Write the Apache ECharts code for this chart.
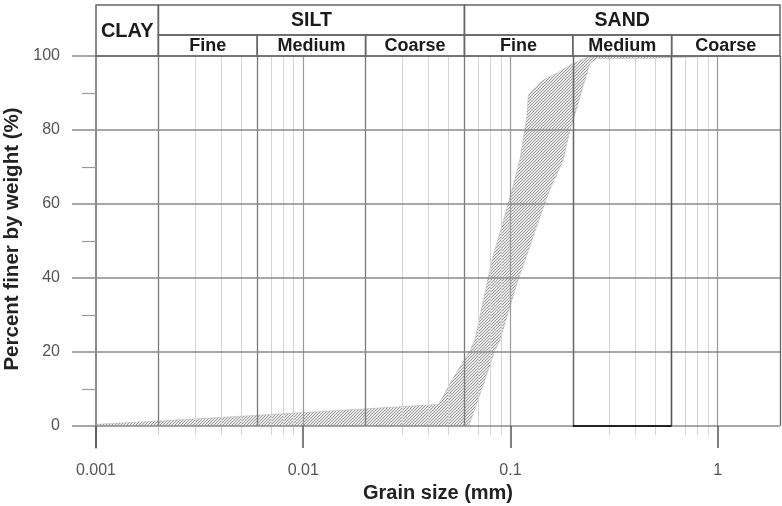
<!DOCTYPE html>
<html>
<head>
<meta charset="utf-8">
<script src="https://cdn.jsdelivr.net/npm/echarts@6/dist/echarts.min.js"></script>
<style>
  html, body { margin: 0; padding: 0; background: #fff; }
  #chart { width: 782px; height: 506px; }
</style>
</head>
<body>
<div id="chart"></div>
<script>
// Grain size classes (mm)
const majorClassNames = ['CLAY', 'SILT', 'SAND'];
const majorClassEdges = [0.001, 0.002, 0.06, 2];
const subClassNames = ['Fine', 'Medium', 'Coarse', 'Fine', 'Medium', 'Coarse'];
const subClassEdges = [0.002, 0.006, 0.02, 0.06, 0.2, 0.6, 2];

// Axis ticks
const sizeTicks = [0.001, 0.01, 0.1, 1];
const pctTicks = [0, 20, 40, 60, 80, 100];
const pctMinorTicks = [10, 30, 50, 70, 90];

// Grading envelope: finest boundary (upper) and coarsest boundary (lower)
const upperSize = [0.001, 0.002, 0.005, 0.01, 0.02, 0.045, 0.053, 0.064, 0.0675, 0.082, 0.092, 0.102, 0.111, 0.12, 0.122, 0.144, 0.168, 0.194, 0.242, 1.1];
const upperPct  = [0.4, 1.3, 2.6, 3.6, 4.6, 5.8, 13, 20.5, 23.5, 45.5, 55, 64, 72, 83.5, 89.5, 93.5, 95.4, 97.6, 100, 100];
const lowerSize = [0.001, 0.063, 0.0754, 0.0843, 0.0891, 0.109, 0.124, 0.139, 0.155, 0.18, 0.194, 0.21, 0.224, 0.242, 0.262, 0.5, 1.1];
const lowerPct  = [0, 0, 12.4, 20.5, 23.2, 39.5, 48.4, 56.5, 63.8, 71.9, 80, 86.2, 91.6, 98, 99.3, 99.4, 100];

const FONT = '"Liberation Sans", Arial, sans-serif';
const X_MIN = 0.001, X_MAX = 2;
const Y_MIN = -6, Y_MAX = 100;

// Hatch pattern for the envelope
function makeHatch() {
  const c = document.createElement('canvas');
  c.width = 3; c.height = 3;
  const g = c.getContext('2d');
  g.fillStyle = 'rgba(215,215,215,0.55)';
  g.fillRect(0, 0, 3, 3);
  g.strokeStyle = '#9c9c9c';
  g.lineWidth = 1;
  g.beginPath();
  g.moveTo(-1, 4); g.lineTo(4, -1);
  g.moveTo(-2, 2); g.lineTo(2, -2);
  g.moveTo(1, 5); g.lineTo(5, 1);
  g.stroke();
  return c;
}
const hatch = makeHatch();

// Intermediate log lines (2..9 per decade) that are not class boundaries
const classBounds = subClassEdges.slice(0, -1);
const minorSizes = [];
sizeTicks.forEach(d => {
  for (let k = 2; k <= 9; k++) {
    const v = +(k * d).toPrecision(3);
    if (v < X_MAX && !classBounds.includes(v)) minorSizes.push(v);
  }
});

const vLine = (x, y0, y1, color, width) => [
  { coord: [x, y0], lineStyle: { color, width, type: 'solid' } },
  { coord: [x, y1] }
];

const gridLines = [];
minorSizes.forEach(v => gridLines.push(vLine(v, Y_MAX, -2.5, '#d4d4d4', 1)));
sizeTicks.slice(1).forEach(v => gridLines.push(vLine(v, Y_MAX, 0, '#9a9a9a', 1.2)));
classBounds.forEach(v => gridLines.push(vLine(v, Y_MAX, 0, '#7a7a7a', 1.3)));
gridLines.push(vLine(classBounds[0], 0, -2.5, '#c8c8c8', 1));
gridLines.push(vLine(X_MAX, Y_MAX, 0, '#666', 1.3));
pctTicks.forEach(v => gridLines.push({ yAxis: v, lineStyle: { color: '#8a8a8a', width: 1.5, type: 'solid' } }));

const tickLines = sizeTicks.map(v => vLine(v, 0, Y_MIN, '#555', 1.5));
tickLines.push(vLine(subClassEdges[4], Y_MAX, 0, '#666', 1.3));
tickLines.push(vLine(subClassEdges[5], Y_MAX, 0, '#555', 1.4));
tickLines.push([{ coord: [subClassEdges[4], 0], lineStyle: { color: '#222', width: 2, type: 'solid' } }, { coord: [subClassEdges[5], 0] }]);

// Header cells: [from, to, yBottom, yTop] in header-row units
const ROW_SPLIT = 21 / 51;
const headerCells = [];
majorClassNames.forEach((n, i) => {
  const spanAll = i === 0;
  headerCells.push({ name: n, from: majorClassEdges[i], to: majorClassEdges[i + 1], y0: spanAll ? 0 : ROW_SPLIT, y1: 1, size: spanAll ? 20 : 19.5 });
});
subClassNames.forEach((n, i) => {
  headerCells.push({ name: n, from: subClassEdges[i], to: subClassEdges[i + 1], y0: 0, y1: ROW_SPLIT, size: 18 });
});

const chart = echarts.init(document.getElementById('chart'), null, { renderer: 'canvas' });

chart.setOption({
  backgroundColor: '#fff',
  animation: false,
  grid: [
    { left: 96, right: 2, top: 56, bottom: 58, containLabel: false, outerBoundsMode: 'none' },
    { left: 96, right: 2, top: 5, height: 51, containLabel: false, outerBoundsMode: 'none' }
  ],
  xAxis: [
    {
      type: 'log', logBase: 10, min: X_MIN, max: X_MAX, gridIndex: 0,
      name: 'Grain size (mm)', nameLocation: 'middle', nameGap: 35,
      nameTextStyle: { fontFamily: FONT, fontSize: 20, fontWeight: 'bold', color: '#222' },
      axisLine: { show: false },
      axisTick: { show: false },
      splitLine: { show: false },
      minorTick: { show: false },
      axisLabel: {
        margin: 15, fontFamily: FONT, fontSize: 16, color: '#555', showMaxLabel: false,
        formatter: v => sizeTicks.some(t => Math.abs(t - v) / t < 1e-6) ? String(v) : ''
      }
    },
    { type: 'log', logBase: 10, min: X_MIN, max: X_MAX, gridIndex: 1, show: false }
  ],
  yAxis: [
    {
      type: 'value', min: Y_MIN, max: Y_MAX, gridIndex: 0, position: 'left',
      name: 'Percent finer by weight (%)', nameLocation: 'middle', nameGap: 69,
      nameTextStyle: { fontFamily: FONT, fontSize: 20.5, fontWeight: 'bold', color: '#222', padding: [0, 0, 0, 26] },
      axisLine: { show: true, lineStyle: { color: '#666', width: 1.5 } },
      axisTick: { show: true, customValues: pctTicks, length: 24, lineStyle: { color: '#8a8a8a', width: 1.5 } },
      axisLabel: { customValues: pctTicks, margin: 36, fontFamily: FONT, fontSize: 16, color: '#555' },
      splitLine: { show: false }
    },
    {
      type: 'value', min: Y_MIN, max: Y_MAX, gridIndex: 0, position: 'left',
      axisLine: { show: false },
      axisTick: { show: true, customValues: pctMinorTicks, length: 14, lineStyle: { color: '#999', width: 1.2 } },
      axisLabel: { show: false },
      splitLine: { show: false }
    },
    { type: 'value', min: 0, max: 1, gridIndex: 1, show: false }
  ],
  series: [
    {
      type: 'line', xAxisIndex: 0, yAxisIndex: 0, data: [], z: 1, silent: true,
      markLine: { silent: true, symbol: ['none', 'none'], label: { show: false }, animation: false, data: gridLines }
    },
    {
      type: 'custom', xAxisIndex: 0, yAxisIndex: 0, z: 3, silent: true,
      data: [[0.1, 50]],
      renderItem: (params, api) => {
        const pts = [];
        upperSize.forEach((s, i) => pts.push(api.coord([s, upperPct[i]])));
        for (let i = lowerSize.length - 1; i >= 0; i--) pts.push(api.coord([lowerSize[i], lowerPct[i]]));
        return {
          type: 'polygon',
          shape: { points: pts },
          style: { fill: { image: hatch, repeat: 'repeat' }, stroke: 'rgba(170,170,170,0.5)', lineWidth: 0.8 }
        };
      }
    },
    {
      type: 'line', xAxisIndex: 0, yAxisIndex: 0, data: [], z: 4, silent: true,
      markLine: { silent: true, symbol: ['none', 'none'], label: { show: false }, animation: false, data: tickLines }
    },
    {
      type: 'custom', xAxisIndex: 1, yAxisIndex: 2, z: 5, silent: true,
      data: headerCells.map(c => [c.from, c.to, c.y0, c.y1]),
      renderItem: (params, api) => {
        const c = headerCells[params.dataIndex];
        const tl = api.coord([c.from, c.y1]);
        const br = api.coord([c.to, c.y0]);
        return {
          type: 'group',
          children: [
            {
              type: 'rect',
              shape: { x: tl[0], y: tl[1], width: br[0] - tl[0], height: br[1] - tl[1] },
              style: { fill: 'none', stroke: '#666', lineWidth: 1.5 }
            },
            {
              type: 'text',
              style: {
                text: c.name, x: (tl[0] + br[0]) / 2, y: (tl[1] + br[1]) / 2 + 1,
                align: 'center', verticalAlign: 'middle',
                fontFamily: FONT, fontSize: c.size, fontWeight: 'bold', fill: '#1a1a1a'
              }
            }
          ]
        };
      }
    }
  ]
});
</script>
</body>
</html>
